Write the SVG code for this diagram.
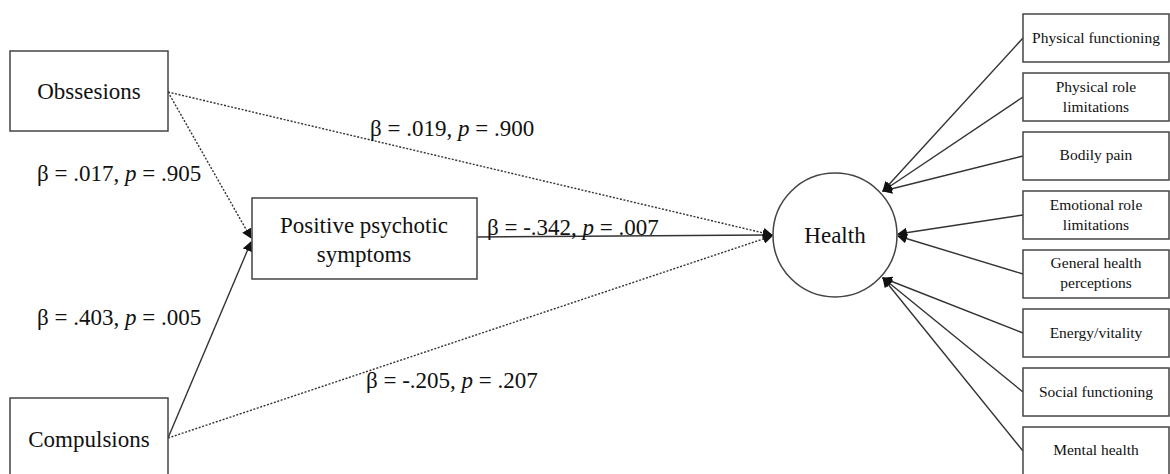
<svg xmlns="http://www.w3.org/2000/svg" width="1170" height="474" viewBox="0 0 1170 474">
<style>
.box{fill:#fff;stroke:#444;stroke-width:1.5}
.t{font-family:"Liberation Serif","Times New Roman",serif;fill:#111;text-anchor:middle}
.big{font-size:23px}
.sm{font-size:15.5px}
.lbl{font-family:"Liberation Serif","Times New Roman",serif;fill:#111;font-size:23px}
.solid{stroke:#333;stroke-width:1.4;fill:none}
.dot{stroke:#333;stroke-width:1.4;fill:none;stroke-dasharray:2 1.6}
</style>
<defs>
<marker id="ah" viewBox="0 0 10 10" refX="9" refY="5" markerWidth="10" markerHeight="10" markerUnits="userSpaceOnUse" orient="auto">
<path d="M0,0 L10,5 L0,10 z" fill="#111"/>
</marker>
</defs>
<rect width="1170" height="474" fill="#fff"/>
<g id="connectors">
<line class="dot" x1="168" y1="92" x2="251" y2="238" marker-end="url(#ah)"/>
<line class="solid" x1="168" y1="438" x2="251" y2="242" marker-end="url(#ah)"/>
<line class="dot" x1="168" y1="92" x2="772" y2="235" marker-end="url(#ah)"/>
<line class="solid" x1="477" y1="237" x2="772" y2="235" marker-end="url(#ah)"/>
<line class="dot" x1="168" y1="438" x2="772" y2="236" marker-end="url(#ah)"/>
<line class="solid" x1="1023" y1="38" x2="883" y2="191" marker-end="url(#ah)"/>
<line class="solid" x1="1023" y1="97" x2="883" y2="191" marker-end="url(#ah)"/>
<line class="solid" x1="1023" y1="156" x2="883" y2="191" marker-end="url(#ah)"/>
<line class="solid" x1="1023" y1="215" x2="898" y2="234" marker-end="url(#ah)"/>
<line class="solid" x1="1023" y1="274" x2="898" y2="236" marker-end="url(#ah)"/>
<line class="solid" x1="1023" y1="333" x2="883" y2="278" marker-end="url(#ah)"/>
<line class="solid" x1="1023" y1="392" x2="883" y2="278" marker-end="url(#ah)"/>
<line class="solid" x1="1023" y1="451" x2="883" y2="278" marker-end="url(#ah)"/>
</g>
<g id="labels">
<text class="lbl" x="370" y="136">β = .019, <tspan font-style="italic">p</tspan> = .900</text>
<text class="lbl" x="37" y="181">β = .017, <tspan font-style="italic">p</tspan> = .905</text>
<text class="lbl" x="487" y="235">β = -.342, <tspan font-style="italic">p</tspan> = .007</text>
<text class="lbl" x="37" y="325">β = .403, <tspan font-style="italic">p</tspan> = .005</text>
<text class="lbl" x="366" y="388">β = -.205, <tspan font-style="italic">p</tspan> = .207</text>
</g>
<g id="obsessions"><rect class="box" x="10" y="51" width="158" height="80"/><text class="t big" x="89" y="99">Obssesions</text></g>
<g id="compulsions"><rect class="box" x="10" y="398" width="158" height="90"/><text class="t big" x="89" y="447">Compulsions</text></g>
<g id="pps"><rect class="box" x="252" y="198" width="225" height="81"/><text class="t big" x="364" y="233">Positive psychotic</text><text class="t big" x="364" y="262">symptoms</text></g>
<g id="health"><circle class="box" cx="835" cy="235" r="62"/><text class="t big" x="835" y="243">Health</text></g>
<g id="pf"><rect class="box" x="1023" y="14" width="146" height="48"/><text class="t sm" x="1096" y="43">Physical functioning</text></g>
<g id="prl"><rect class="box" x="1023" y="73" width="146" height="48"/><text class="t sm" x="1096" y="92">Physical role</text><text class="t sm" x="1096" y="112">limitations</text></g>
<g id="bp"><rect class="box" x="1023" y="132" width="146" height="48"/><text class="t sm" x="1096" y="160">Bodily pain</text></g>
<g id="erl"><rect class="box" x="1023" y="191" width="146" height="48"/><text class="t sm" x="1096" y="210">Emotional role</text><text class="t sm" x="1096" y="230">limitations</text></g>
<g id="ghp"><rect class="box" x="1023" y="250" width="146" height="48"/><text class="t sm" x="1096" y="268">General health</text><text class="t sm" x="1096" y="288">perceptions</text></g>
<g id="ev"><rect class="box" x="1023" y="309" width="146" height="48"/><text class="t sm" x="1096" y="338">Energy/vitality</text></g>
<g id="sf"><rect class="box" x="1023" y="368" width="146" height="48"/><text class="t sm" x="1096" y="397">Social functioning</text></g>
<g id="mh"><rect class="box" x="1023" y="427" width="146" height="60"/><text class="t sm" x="1096" y="455">Mental health</text></g>
</svg>
